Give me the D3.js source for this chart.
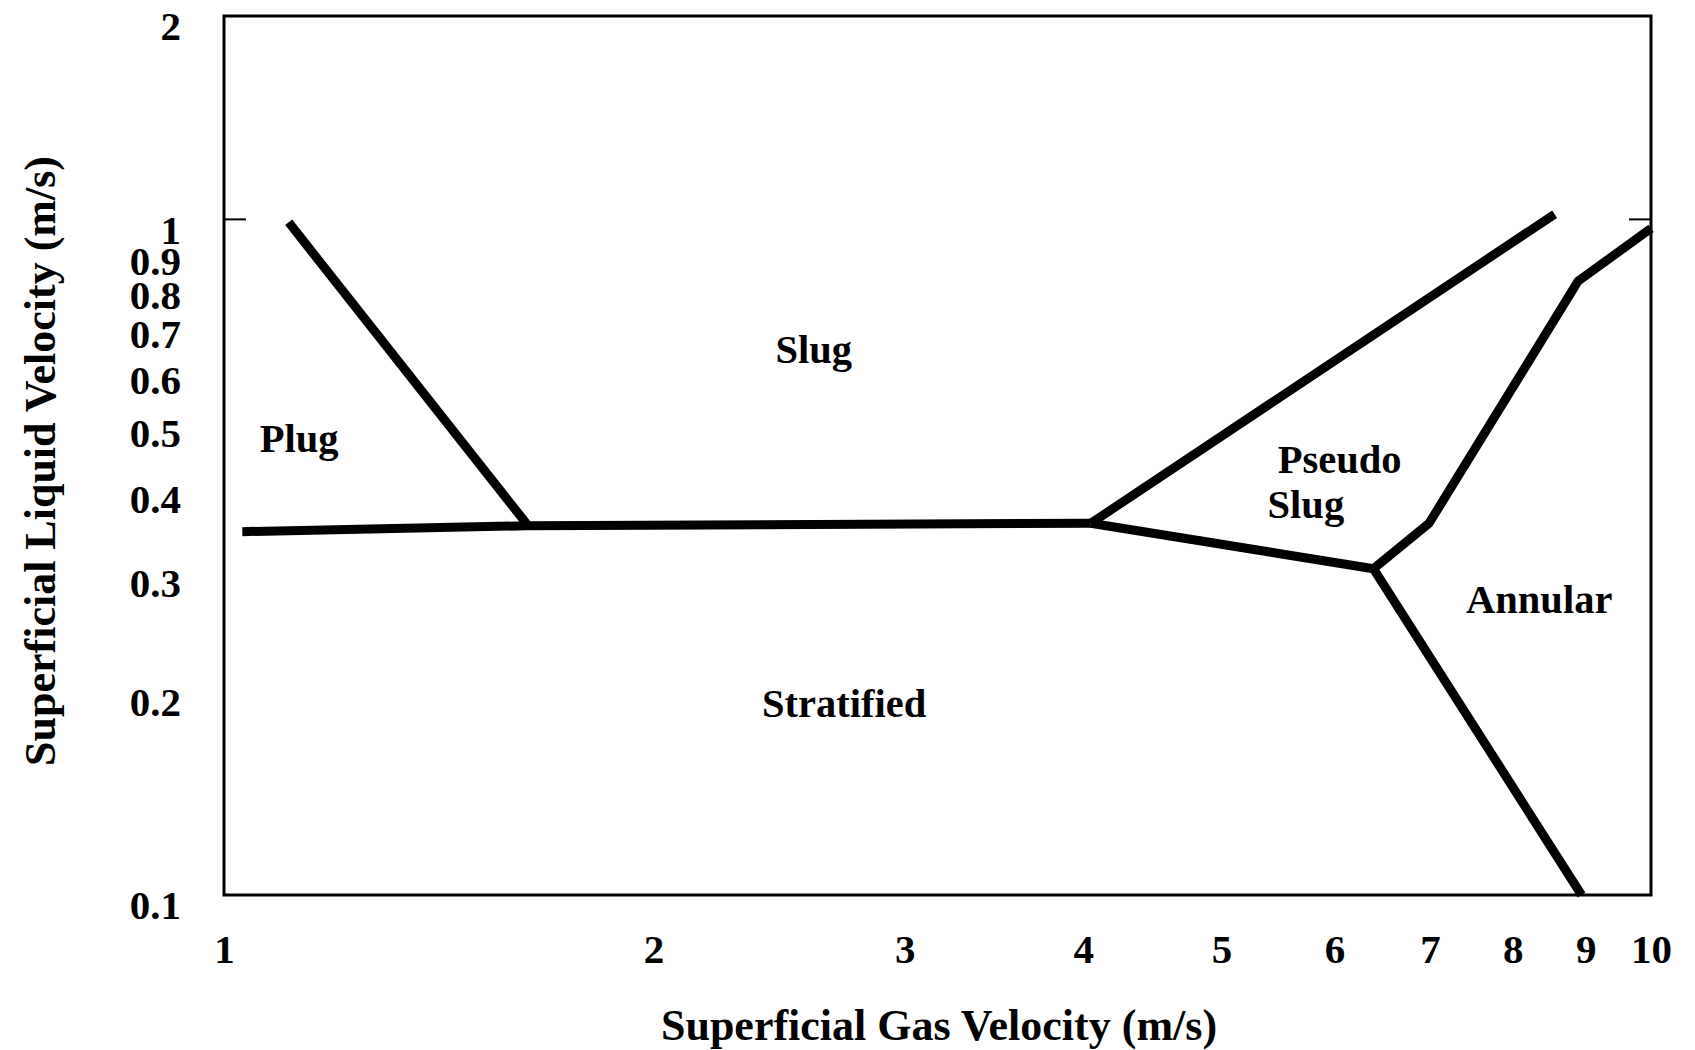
<!DOCTYPE html>
<html>
<head>
<meta charset="utf-8">
<script src="https://cdn.jsdelivr.net/npm/d3@7"></script>
<style>
  body { margin: 0; background: #fff; }
  svg text { font-family: "Liberation Serif", "Times New Roman", serif; font-weight: bold; fill: #000; }
</style>
</head>
<body>
<svg id="chart" width="1695" height="1050"></svg>
<script>
// flow regime boundaries, [gas velocity, liquid velocity] in m/s
const plugSlug = [[1.11, 0.99], [1.63, 0.354]];
const stratifiedTop = [[1.03, 0.345], [1.63, 0.352], [4.05, 0.355]];
const pseudoTop = [[4.05, 0.355], [8.56, 1.018]];
const pseudoBottom = [[4.05, 0.355], [6.39, 0.304]];
const stratifiedAnnular = [[6.39, 0.304], [8.94, 0.1]];
const pseudoAnnular = [[6.39, 0.304], [6.99, 0.355], [8.89, 0.81], [10, 0.97]];

const xTicks = [1, 2, 3, 4, 5, 6, 7, 8, 9, 10];
const yTicks = [0.1, 0.2, 0.3, 0.4, 0.5, 0.6, 0.7, 0.8, 0.9, 1, 2];

// region names with their anchor (baseline centre) in data units
const regionNames = ["Plug", "Slug", "Pseudo", "Slug", "Annular", "Stratified"];
const regionX = [1.129, 2.59, 6.05, 5.73, 8.35, 2.72];
const regionY = [0.453, 0.613, 0.421, 0.361, 0.2615, 0.1834];

const PADDING = { top: 16, right: 44, bottom: 155, left: 224 };
const width = 1695, height = 1050;

const svg = d3.select("#chart");

const xscale = d3.scaleLog().domain([1, 10]).range([PADDING.left, width - PADDING.right]);
const yscale = d3.scaleLog().domain([0.1, 2]).range([height - PADDING.bottom, PADDING.top]);

const x0 = xscale.range()[0], x1 = xscale.range()[1];
const y0 = yscale.range()[0], y1 = yscale.range()[1];

// axis labels (no visible tick marks)
const xaxis = d3.axisBottom(xscale)
    .tickValues(xTicks)
    .tickFormat(d3.format("d"))
    .tickSize(0)
    .tickPadding(39);

const yaxis = d3.axisLeft(yscale)
    .tickValues(yTicks)
    .tickFormat(d => String(d))
    .tickSize(0)
    .tickPadding(43);

const gx = svg.append("g")
    .attr("transform", `translate(0,${y0})`)
    .call(xaxis);
gx.select(".domain").remove();
gx.selectAll("text").attr("font-size", 41);
gx.attr("font-family", null);

const gy = svg.append("g")
    .attr("transform", `translate(${x0},0)`)
    .call(yaxis);
gy.select(".domain").remove();
gy.selectAll("text").attr("font-size", 41).attr("dy", "0.58em");
gy.attr("font-family", null);

// frame
svg.append("rect")
    .attr("x", x0)
    .attr("y", y1)
    .attr("width", x1 - x0)
    .attr("height", y0 - y1)
    .attr("fill", "none")
    .attr("stroke", "#000")
    .attr("stroke-width", 3);

// inner ticks at 1 m/s, both sides
[[x0, 22], [x1, -22]].forEach(([x, len]) => {
    svg.append("line")
        .attr("x1", x)
        .attr("x2", x + len)
        .attr("y1", yscale(1))
        .attr("y2", yscale(1))
        .attr("stroke", "#000")
        .attr("stroke-width", 2);
});

const line = d3.line()
    .x(d => xscale(d[0]))
    .y(d => yscale(d[1]));

[plugSlug, stratifiedTop, pseudoTop, pseudoBottom, stratifiedAnnular, pseudoAnnular].forEach(data => {
    svg.append("path")
        .datum(data)
        .attr("fill", "none")
        .attr("stroke", "#000")
        .attr("stroke-width", 9)
        .attr("stroke-linejoin", "round")
        .attr("stroke-linecap", "butt")
        .attr("d", line);
});

// region names
svg.append("g")
    .selectAll("text")
    .data(regionNames)
    .join("text")
    .attr("x", (d, i) => xscale(regionX[i]))
    .attr("y", (d, i) => yscale(regionY[i]))
    .attr("text-anchor", "middle")
    .attr("font-size", 40.5)
    .text(d => d);

// axis titles
svg.append("text")
    .attr("x", 939)
    .attr("y", 1040)
    .attr("text-anchor", "middle")
    .attr("font-size", 44)
    .text("Superficial Gas Velocity (m/s)");

svg.append("text")
    .attr("transform", `translate(55,${461}) rotate(-90)`)
    .attr("text-anchor", "middle")
    .attr("font-size", 44)
    .text("Superficial Liquid Velocity (m/s)");
</script>
</body>
</html>
